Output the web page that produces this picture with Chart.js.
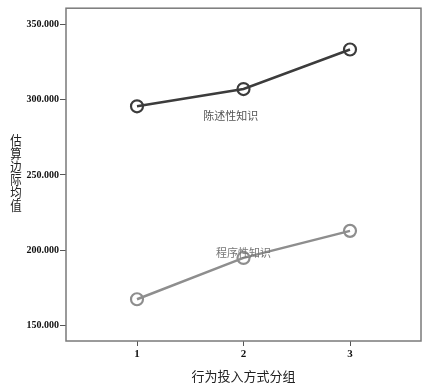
<!DOCTYPE html>
<html>
<head>
<meta charset="utf-8">
<script src="https://cdn.jsdelivr.net/npm/chart.js@4.4.1/dist/chart.umd.min.js"></script>
<style>
  html, body { margin: 0; padding: 0; background: #fff; }
  #wrap { width: 433px; height: 384px; position: relative; }
</style>
</head>
<body>
<div id="wrap"><canvas id="myChart"></canvas></div>
<script>
var groups = [1, 2, 3];
var declarative = [295.7, 307.2, 333.5];
var procedural = [167.3, 194.8, 212.8];
var yTicks = [150, 200, 250, 300, 350];
var seriesNames = ["陈述性知识", "程序性知识"];
var xTitle = "行为投入方式分组";
var yTitle = "估算边际均值";

var serif = "'Liberation Serif', 'DejaVu Serif', serif";
var cjk = "'Noto Sans CJK SC', sans-serif";

// box, y title and line labels
var extras = {
    id: "extras",
    afterDraw: function(chart) {
        var c = chart.ctx, a = chart.chartArea;
        var xs = chart.scales.x, ys = chart.scales.y;
        c.save();
        c.strokeStyle = "#7a7a7a";
        c.lineWidth = 1.5;
        c.strokeRect(a.left, a.top, a.right - a.left, a.bottom - a.top);

        // stacked y title, glyphs a little narrow like the original
        c.font = "13px " + cjk;
        c.fillStyle = "#222";
        c.textAlign = "center";
        c.textBaseline = "middle";
        var chars = yTitle.split("");
        for (var i = 0; i < chars.length; i++) {
            c.save();
            c.translate(16, 140.5 + i * 13);
            c.scale(0.88, 1);
            c.fillText(chars[i], 0, 0);
            c.restore();
        }

        c.font = "11px " + cjk;
        c.fillStyle = "#555";
        c.fillText(seriesNames[0], xs.getPixelForValue(1.88), ys.getPixelForValue(289.2));
        c.fillStyle = "#777";
        c.fillText(seriesNames[1], xs.getPixelForValue(2.0), ys.getPixelForValue(198.2));
        c.restore();
    }
};

var ctx = document.getElementById("myChart");

new Chart(ctx, {
    type: 'line',
    data: {
        datasets: [{
            label: seriesNames[0],
            data: groups.map(function(g, i) { return { x: g, y: declarative[i] }; }),
            borderColor: "#3c3c3c",
            backgroundColor: "rgba(0,0,0,0)",
            borderWidth: 2.5,
            pointRadius: 6,
            pointBorderWidth: 2.2,
            pointBorderColor: "#3c3c3c",
            pointBackgroundColor: "rgba(0,0,0,0)",
            tension: 0
        }, {
            label: seriesNames[1],
            data: groups.map(function(g, i) { return { x: g, y: procedural[i] }; }),
            borderColor: "#8e8e8e",
            backgroundColor: "rgba(0,0,0,0)",
            borderWidth: 2.5,
            pointRadius: 6,
            pointBorderWidth: 2.2,
            pointBorderColor: "#8e8e8e",
            pointBackgroundColor: "rgba(0,0,0,0)",
            tension: 0
        }]
    },
    options: {
        responsive: true,
        maintainAspectRatio: false,
        animation: false,
        layout: {
            padding: { left: 0, right: 12, top: 7, bottom: 0 }
        },
        scales: {
            x: {
                type: 'linear',
                min: 1 / 3,
                max: 3 + 2 / 3,
                afterBuildTicks: function(scale) {
                    scale.ticks = groups.map(function(v) { return { value: v }; });
                },
                afterFit: function(scale) { scale.height = 43; },
                grid: { drawOnChartArea: false, drawTicks: true, tickLength: 5, color: "#555" },
                border: { display: false },
                ticks: {
                    color: "#111",
                    font: { family: serif, size: 11, weight: "bold" },
                    padding: 2
                },
                title: {
                    display: true,
                    text: xTitle,
                    color: "#222",
                    font: { family: cjk, size: 13 },
                    padding: { top: 0, bottom: 0 }
                }
            },
            y: {
                min: 139.5,
                max: 361,
                afterBuildTicks: function(scale) {
                    scale.ticks = yTicks.map(function(v) { return { value: v }; });
                },
                afterFit: function(scale) { scale.width = 66; },
                grid: { drawOnChartArea: false, drawTicks: true, tickLength: 6, color: "#555" },
                border: { display: false },
                ticks: {
                    color: "#111",
                    font: { family: serif, size: 10, weight: "bold" },
                    padding: 1,
                    callback: function(value) { return value.toFixed(3); }
                }
            }
        },
        plugins: {
            legend: { display: false },
            tooltip: { enabled: false }
        }
    }
    ,
    plugins: [extras]
});
</script>
</body>
</html>
